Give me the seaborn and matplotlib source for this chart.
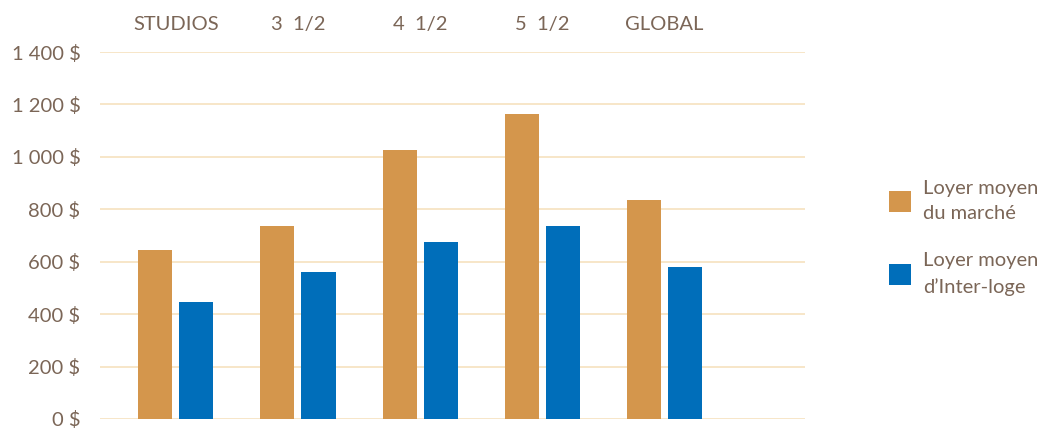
import matplotlib
matplotlib.use("Agg")
import matplotlib.pyplot as plt
import seaborn as sns
import pandas as pd
from matplotlib.ticker import FuncFormatter

categories = ["STUDIOS", "3  1/2", "4  1/2", "5  1/2", "GLOBAL"]
series_names = ["Loyer moyen\ndu marché", "Loyer moyen\nd\u2019Inter-loge"]
marche = [645, 735, 1025, 1165, 835]
interloge = [445, 560, 675, 735, 580]
y_ticks = [0, 200, 400, 600, 800, 1000, 1200, 1400]

ORANGE = "#D4964C"
BLUE = "#006EBA"
TEXT = "#7B6657"
GRID = "#F7E4C4"

df = pd.DataFrame({
    "cat": categories * 2,
    "serie": [series_names[0]] * len(categories) + [series_names[1]] * len(categories),
    "val": marche + interloge,
})

sns.set_theme(style="white")
plt.rcParams["font.family"] = ["Lato", "DejaVu Sans"]

fig = plt.figure(figsize=(10.5, 4.28), dpi=100)
ax = fig.add_axes([100 / 1050, (428 - 419) / 428, 705 / 1050, 367 / 428])

sns.barplot(data=df, x="cat", y="val", hue="serie", order=categories,
            hue_order=series_names, palette=[ORANGE, BLUE],
            width=0.672, gap=0.17, linewidth=0, ax=ax, saturation=1, zorder=3)

ax.set_xlim(-0.62, 5.15)
ax.set_ylim(0, 1400)
ax.set_yticks(y_ticks)
ax.yaxis.set_major_formatter(FuncFormatter(lambda v, p: f"{int(v):,} $".replace(",", " ")))
ax.grid(axis="y", color=GRID, linewidth=1.3, zorder=0)
ax.grid(axis="x", visible=False)
for s in ax.spines.values():
    s.set_visible(False)
ax.set_xlabel("")
ax.set_ylabel("")
ax.xaxis.tick_top()
ax.tick_params(axis="x", length=0, pad=14, labelsize=14.5, labelcolor=TEXT)
ax.tick_params(axis="y", length=0, pad=14, labelsize=14.5, labelcolor=TEXT)

handles, labels = ax.get_legend_handles_labels()
leg = ax.legend(handles, labels, loc="center left", bbox_to_anchor=(871 / 1050, 1 - 238 / 428),
                bbox_transform=fig.transFigure, frameon=False, fontsize=14.5,
                labelcolor=TEXT, handlelength=1.1, handleheight=1.2,
                handletextpad=0.6, labelspacing=1.5)
for t in leg.get_texts():
    t.set_linespacing(1.6)

fig.savefig("out.png", dpi=100)
